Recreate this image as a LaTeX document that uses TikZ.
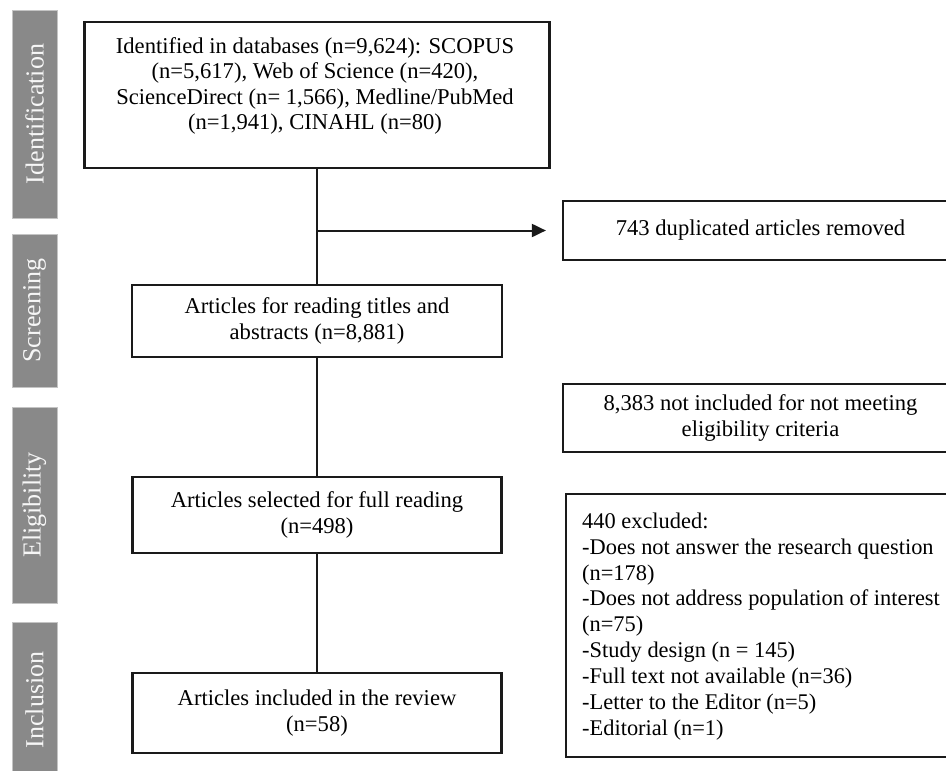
\documentclass[tikz,border=0pt]{standalone}
\usepackage{fontspec}
\setmainfont{Liberation Serif}
\usetikzlibrary{arrows.meta}
\definecolor{bargray}{HTML}{898989}
\definecolor{baredge}{HTML}{C4C4C4}
\definecolor{lineblack}{HTML}{1A1A1A}
\definecolor{bartxt}{HTML}{F6F6F6}
\begin{document}
\begin{tikzpicture}[x=1pt,y=-1pt,
  box/.style={draw=lineblack, line width=2.2pt, inner sep=0pt, fill=white},
  txt/.style={font=\fontsize{22.6}{25.6}\selectfont, align=center, inner sep=0pt, text=black},
  bar/.style={fill=bargray, draw=baredge, line width=0.8pt, inner sep=0pt, rotate=90,
    minimum height=45pt, font=\fontsize{26}{30}\selectfont, text=bartxt},
  link/.style={draw=lineblack, line width=2pt}]
\useasboundingbox (0,0) rectangle (946,771);
\clip (0,0) rectangle (946,771);

% phase bars
\node[bar, minimum width=208pt] (barI) at (34.5,114) {Identification};
\node[bar, minimum width=153pt] (barS) at (34.5,310.5) {Screening};
\node[bar, minimum width=196pt] (barE) at (34.5,505) {Eligibility};
\node[bar, minimum width=156pt] (barN) at (34.5,700) {Inclusion};

% main column
\node[box, minimum width=465pt, minimum height=146pt] (ident) at (317,95) {};
\node[txt] (identtxt) at (315,86) {Identified in databases (n=9,624): SCOPUS\\(n=5,617), Web of Science (n=420),\\ScienceDirect (n= 1,566), Medline/PubMed\\(n=1,941), CINAHL (n=80)};

\node[box, txt, minimum width=370pt, minimum height=72pt] (screen) at (317,321) {Articles for reading titles and\\abstracts (n=8,881)};
\node[box, txt, minimum width=369pt, minimum height=76pt] (eligible) at (317,515) {Articles selected for full reading\\(n=498)};
\node[box, txt, minimum width=369pt, minimum height=80pt] (included) at (317,713) {Articles included in the review\\(n=58)};

% right column
\node[box, txt, minimum width=395pt, minimum height=59pt] (dup) at (760.5,230.5) {743 duplicated articles removed};
\node[box, txt, minimum width=395pt, minimum height=68pt] (notinc) at (760.5,418) {8,383 not included for not meeting\\eligibility criteria};
\node[box, minimum width=392pt, minimum height=263pt] (excl) at (762,625.5) {};
\node[txt, align=left, anchor=west, font=\fontsize{22.4}{25.9}\selectfont] (excltxt) at (582,626.5) {440 excluded:\\-Does not answer the research question\\(n=178)\\-Does not address population of interest\\(n=75)\\-Study design (n = 145)\\-Full text not available (n=36)\\-Letter to the Editor (n=5)\\-Editorial (n=1)};

% connectors
\draw[link] (ident.south) -- (screen.north);
\draw[link] (screen.south) -- (eligible.north);
\draw[link] (eligible.south) -- (included.north);
\coordinate (split) at (ident.south |- dup.west);
\draw[link, -{Triangle[length=14pt,width=13pt]}, shorten >=16pt] (split) -- (dup.west);
\end{tikzpicture}
\end{document}
